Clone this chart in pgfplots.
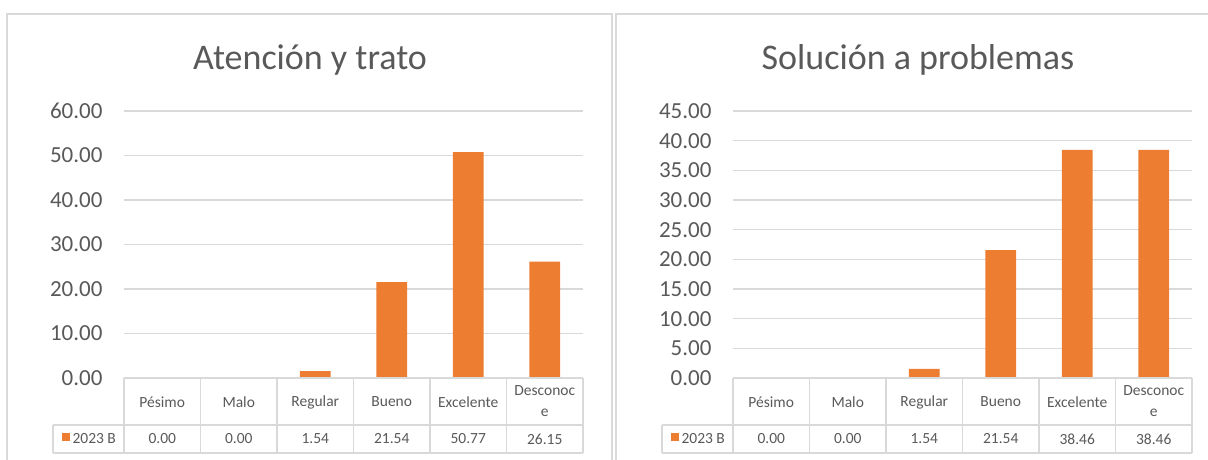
\documentclass[border=0pt]{standalone}
\usepackage{pgfplots}
\pgfplotsset{compat=1.18}
\usepackage{fontspec}
\setmainfont{Carlito}

\definecolor{barorange}{HTML}{ED7D31}
\definecolor{gridc}{HTML}{D9D9D9}
\definecolor{txt}{HTML}{595959}

\pgfplotsset{
  panel/.style={
    scale only axis, width=459pt, height=267pt,
    anchor=south west,
    xmin=-0.5, xmax=5.5, ymin=0,
    axis line style={draw=none},
    major tick length=0pt,
    xtick=\empty,
    ymajorgrids, grid style={gridc, line width=1.2pt},
    /pgf/number format/assume math mode=true,
    yticklabel style={font=\fontsize{23pt}{25pt}\selectfont, text=txt, xshift=-18pt,
      /pgf/number format/.cd, fixed, fixed zerofill, precision=2},
    ybar, bar width=0.4, bar shift=0pt,
    clip=false,
  }
}

% series values, categories at 0..5
\pgfplotstableread{
x y
0 0.00
1 0.00
2 1.54
3 21.54
4 50.77
5 26.15
}\atencion
\pgfplotstableread{
x y
0 0.00
1 0.00
2 1.54
3 21.54
4 38.46
5 38.46
}\solucion

\tikzset{cell/.style={font=\fontsize{15.5pt}{21pt}\selectfont, text=txt}}

\begin{document}
\begin{tikzpicture}
\useasboundingbox (0pt,0pt) rectangle (1208pt,-460pt);

% chart frames
\begin{scope}[x=1pt,y=-1pt]
\draw[gridc, line width=1.5pt] (7,460) -- (7,14) -- (612,14) -- (612,460);
\draw[gridc, line width=1.5pt] (616,460) -- (616,14) -- (1210,14);
\end{scope}

\begin{axis}[panel, at={(124pt,-378pt)}, ymax=60, ytick distance=10]
\addplot[fill=barorange, draw=none] table[x=x,y=y] {\atencion};
\end{axis}

\begin{axis}[panel, at={(733pt,-378pt)}, ymax=45, ytick distance=5]
\addplot[fill=barorange, draw=none] table[x=x,y=y] {\solucion};
\end{axis}

\begin{scope}[x=1pt,y=-1pt]
% titles
\node[anchor=base, text=txt, font=\fontsize{36pt}{40pt}\selectfont] at (310,70) {Atención y trato};
\node[anchor=base, text=txt, font=\fontsize{36pt}{40pt}\selectfont] at (918,70) {Solución a problemas};

% data tables
\foreach \x/\vals in {124/{0.00,0.00,1.54,21.54,50.77,26.15}, 733/{0.00,0.00,1.54,21.54,38.46,38.46}} {
  \pgfmathsetmacro{\xl}{\x-71}
  \pgfmathsetmacro{\xr}{\x+459}
  \draw[gridc, line width=1.2pt] (\x,378) -- (\xr,378);
  \draw[gridc, line width=1.2pt] (\xl,425) -- (\xr,425);
  \draw[gridc, line width=1.2pt] (\xl,453) -- (\xr,453);
  \draw[gridc, line width=1.2pt] (\xl,425) -- (\xl,453);
  \foreach \i in {0,...,6} {
    \draw[gridc, line width=1.2pt] (\x+\i*76.5,378) -- (\x+\i*76.5,453);
  }
  \foreach \c [count=\i from 0] in {Pésimo,Malo,Regular,Bueno,Excelente} {
    \node[cell] at (\x+38.25+\i*76.5,402) {\c};
  }
  \node[cell, align=center, inner sep=0pt] at (\x+38.25+5*76.5,401) {Desconoc\\e};
  \foreach \v [count=\i from 0] in \vals {
    \node[cell] at (\x+38.25+\i*76.5,439) {\v};
  }
  \fill[barorange] (\xl+9,433) rectangle (\xl+17,441);
  \node[cell, anchor=west] at (\xl+16,439) {2023 B};
}
\end{scope}
\end{tikzpicture}
\end{document}
